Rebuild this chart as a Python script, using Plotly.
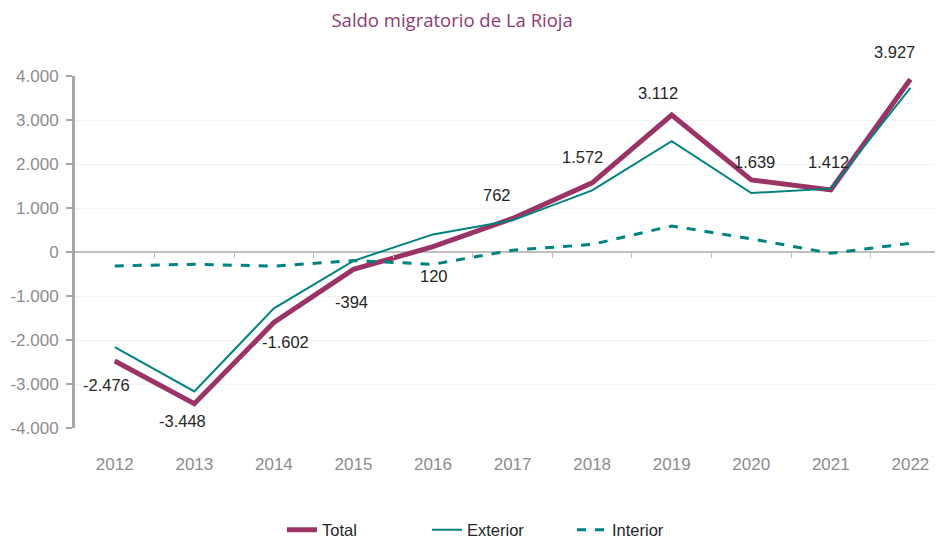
import plotly.graph_objects as go

years = ["2012", "2013", "2014", "2015", "2016", "2017", "2018", "2019", "2020", "2021", "2022"]
total = [-2476, -3448, -1602, -394, 120, 762, 1572, 3112, 1639, 1412, 3927]
exterior = [-2160, -3170, -1280, -200, 400, 720, 1400, 2520, 1340, 1440, 3730]
interior = [-316, -278, -322, -194, -280, 42, 172, 592, 299, -28, 197]
ytick_vals = [-4000, -3000, -2000, -1000, 0, 1000, 2000, 3000, 4000]
ytick_text = ["-4.000", "-3.000", "-2.000", "-1.000", "0", "1.000", "2.000", "3.000", "4.000"]
# label offsets (pixels) relative to each Total point
label_dx = [-8, -12, 12, -2, 1, -16, -10, -14, 3, -2, -16]
label_dy = [-24, -17, -20, -33, -29, 23, 26, 22, 18, 28, 27]

def fmt(v):
    return f"{v:,}".replace(",", ".")

MAROON = "#9A3467"
TEAL = "#00827F"

fig = go.Figure()
fig.add_trace(go.Scatter(x=years, y=total, mode="lines", name="Total",
                         line=dict(color=MAROON, width=5)))
fig.add_trace(go.Scatter(x=years, y=exterior, mode="lines", name="Exterior",
                         line=dict(color=TEAL, width=2)))
fig.add_trace(go.Scatter(x=years, y=interior, mode="lines", name="Interior",
                         line=dict(color=TEAL, width=3, dash="dash")))

for i, v in enumerate(total):
    fig.add_annotation(x=i, y=v, xref="x", yref="y", text=fmt(v), showarrow=False,
                       xshift=label_dx[i], yshift=label_dy[i],
                       font=dict(family="Liberation Sans, Arial", size=16.5, color="#262626"))

xr = [-0.5, 10.41]
fig.update_layout(
    width=935, height=530,
    margin=dict(l=67, r=0, t=68, b=110),
    paper_bgcolor="white", plot_bgcolor="white",
    title=dict(text="Saldo migratorio de La Rioja", x=0.475, xanchor="center",
               y=0.977, yanchor="middle",
               font=dict(family="Open Sans", size=18.5, color="#8E3B74")),
    xaxis=dict(type="category", range=xr, showline=False, showgrid=False,
               zeroline=False, ticks="", ticklabelstandoff=24, automargin=False,
               tickfont=dict(family="Liberation Sans, Arial", size=17, color="#8C8C8C")),
    xaxis2=dict(overlaying="x", anchor="free", position=0.5, range=xr,
                showline=False, showgrid=False, zeroline=False, showticklabels=False,
                tickvals=[0.5, 1.5, 2.5, 3.5, 4.5, 5.5, 6.5, 7.5, 8.5, 9.5],
                ticks="outside", ticklen=5, tickcolor="#BFBFBF", tickwidth=1,
                automargin=False),
    yaxis=dict(range=[-4000, 4000], tickvals=ytick_vals, ticktext=ytick_text,
               showline=True, linecolor="#A6A6A6", linewidth=3, automargin=False,
               ticks="outside", ticklen=6, tickcolor="#A6A6A6", tickwidth=1.5,
               ticklabelstandoff=4,
               showgrid=True, gridcolor="#F2F2F2", gridwidth=1,
               zeroline=True, zerolinecolor="#BFBFBF", zerolinewidth=1.5,
               tickfont=dict(family="Liberation Sans, Arial", size=17, color="#8C8C8C")),
    legend=dict(orientation="h", x=0.489, xanchor="center",
                yref="container", y=0.015, yanchor="middle",
                font=dict(family="Liberation Sans, Arial", size=16.5, color="#262626"),
                entrywidth=100, entrywidthmode="pixels"),
    showlegend=True,
)
# invisible trace on xaxis2 so the zero-line tick axis renders
fig.add_trace(go.Scatter(x=[0], y=[0], xaxis="x2", mode="markers",
                         marker=dict(opacity=0), showlegend=False, hoverinfo="skip"))

fig.write_html("out.html")
